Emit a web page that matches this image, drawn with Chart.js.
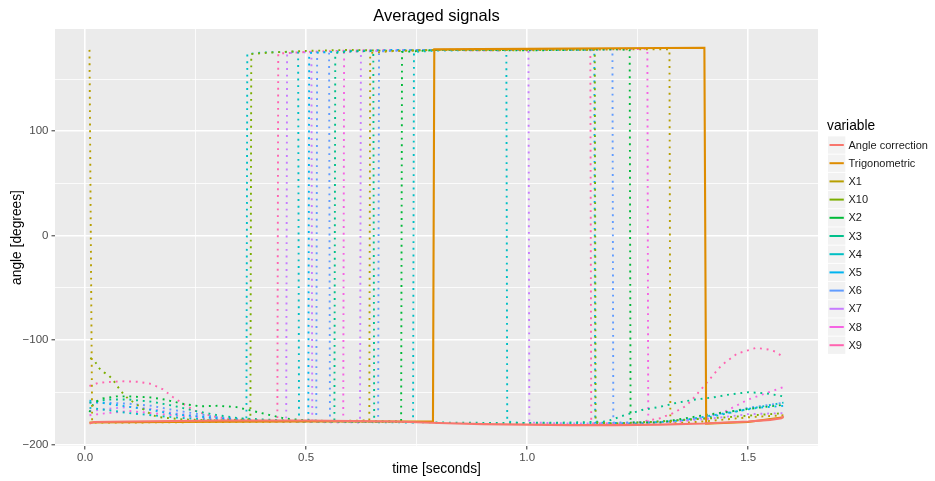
<!DOCTYPE html>
<html>
<head>
<meta charset="utf-8">
<script src="https://cdn.jsdelivr.net/npm/chart.js@4/dist/chart.umd.min.js"></script>
<style>
  body { margin: 0; background: #fff; }
  canvas { display: block; }
</style>
</head>
<body>
<canvas id="signalsCanvas" width="935" height="481"></canvas>
<script>
// [time, angle] pairs
const angleCorrection = [[0.01,-180],[0.02,-178.5],[0.1,-178],[0.2,-177.5],[0.3,-177],[0.4,-177],[0.5,-177],[0.6,-177.5],[0.7,-178],[0.8,-179.5],[0.9,-180.5],[1.0,-181],[1.1,-181.5],[1.2,-181.5],[1.3,-181],[1.4,-180],[1.45,-179],[1.5,-178],[1.55,-176.5],[1.575,-175],[1.58,-173]];
const trigonometric = [[0.01,-179],[0.2,-178.5],[0.5,-178],[0.787,-178],[0.79,178.5],[1.0,179],[1.2,179.5],[1.401,180],[1.405,-180],[1.5,-178.5],[1.58,-174]];
const x1 = [[0.01,178],[0.016,-179],[0.1,-179],[0.3,-178.5],[0.5,-178],[0.643,-177],[0.645,175],[0.7,177],[0.8,178],[0.9,177.5],[1.0,178],[1.1,178],[1.2,178.5],[1.322,178.5],[1.324,-180],[1.4,-178],[1.5,-174],[1.58,-172]];
const x10 = [[0.012,-117],[0.023,-121],[0.032,-127],[0.043,-131],[0.054,-134],[0.063,-138],[0.081,-149],[0.097,-156],[0.118,-162],[0.131,-166],[0.152,-172],[0.17,-174],[0.22,-176],[0.3,-177],[0.374,-176],[0.376,174],[0.42,175.5],[0.5,177],[0.6,178],[0.7,177],[0.8,178],[0.9,178],[1.0,177.5],[1.1,178.5],[1.153,178],[1.155,-179],[1.2,-180],[1.3,-178],[1.45,-174],[1.58,-170]];
const x2 = [[0.01,-169],[0.02,-160],[0.04,-156],[0.07,-154],[0.1,-154],[0.15,-155],[0.18,-157],[0.22,-161],[0.26,-163.5],[0.3,-163],[0.34,-164],[0.38,-168],[0.42,-172],[0.45,-175],[0.5,-177],[0.6,-178],[0.715,-178],[0.717,176],[0.8,178],[0.9,178],[1.0,177.5],[1.1,178],[1.2,178.5],[1.232,178],[1.234,-179],[1.3,-179],[1.4,-172],[1.5,-166],[1.58,-162]];
const x3 = [[0.01,-160],[0.05,-157],[0.1,-157],[0.15,-159],[0.2,-163],[0.25,-168],[0.3,-172],[0.35,-175],[0.45,-177],[0.564,-178],[0.566,175],[0.6,176.5],[0.652,177],[0.654,-178],[0.8,-179],[0.95,-179.5],[1.1,-179],[1.18,-178],[1.22,-172],[1.26,-167],[1.3,-164],[1.34,-160],[1.38,-157],[1.42,-155],[1.46,-152],[1.5,-150],[1.54,-151],[1.58,-154]];
const x4 = [[0.01,-165],[0.05,-167],[0.1,-170],[0.2,-174],[0.3,-177],[0.365,-178],[0.367,174],[0.4,175.5],[0.45,176],[0.482,176.5],[0.484,-178],[0.6,-178.5],[0.742,-179],[0.744,176],[0.8,177.5],[0.9,178],[0.953,177.5],[0.955,-178],[1.0,-180],[1.2,-180],[1.3,-178],[1.4,-175],[1.5,-166],[1.58,-160]];
const x5 = [[0.01,-158],[0.05,-161],[0.1,-164],[0.15,-167],[0.2,-171],[0.3,-175],[0.4,-177.5],[0.505,-178],[0.507,175],[0.6,177],[0.7,178],[0.8,177.5],[0.9,178],[1.0,178.5],[1.1,178],[1.152,178],[1.154,-179],[1.25,-180],[1.35,-177],[1.45,-170],[1.52,-165],[1.58,-163]];
const x6 = [[0.01,-160],[0.05,-160],[0.1,-161],[0.15,-163],[0.2,-167],[0.3,-174],[0.4,-177],[0.523,-178],[0.525,175.5],[0.552,176],[0.554,-178],[0.663,-178.5],[0.665,176.5],[0.75,178],[0.85,178],[0.95,178.5],[1.05,178],[1.193,178.5],[1.195,-179],[1.3,-179],[1.4,-174],[1.5,-165],[1.58,-160]];
const x7 = [[0.01,-168],[0.05,-166],[0.1,-164],[0.15,-166],[0.2,-170],[0.3,-175],[0.4,-177.5],[0.455,-178],[0.457,175],[0.512,176],[0.514,-178],[0.622,-179],[0.624,176.5],[0.7,177.5],[0.8,178],[0.9,177.5],[1.003,178],[1.005,-179],[1.1,-180],[1.25,-180],[1.4,-176],[1.5,-171],[1.58,-170]];
const x8 = [[0.01,-172],[0.05,-170],[0.1,-168],[0.15,-170],[0.2,-172],[0.3,-176],[0.45,-178],[0.584,-179],[0.586,176],[0.7,177.5],[0.8,178],[0.9,178.5],[1.0,178],[1.1,178.5],[1.2,178.5],[1.272,179],[1.274,-179],[1.35,-178],[1.4,-174],[1.45,-168],[1.5,-157],[1.54,-151],[1.58,-145]];
const x9 = [[0.01,-144],[0.03,-141],[0.06,-140],[0.09,-139.5],[0.12,-140],[0.15,-142],[0.175,-147],[0.2,-155],[0.222,-161],[0.245,-167],[0.27,-171],[0.3,-174],[0.35,-177],[0.435,-178],[0.437,174.5],[0.5,176],[0.6,177.5],[0.7,178],[0.8,178],[0.9,177.5],[1.0,178],[1.143,178.5],[1.145,-180],[1.2,-180],[1.25,-179],[1.3,-175],[1.33,-170],[1.36,-163],[1.38,-154],[1.41,-139],[1.44,-124],[1.475,-113],[1.518,-107.5],[1.545,-109],[1.561,-111],[1.575,-115]];

const seriesNames = ['Angle correction', 'Trigonometric', 'X1', 'X10', 'X2', 'X3', 'X4', 'X5', 'X6', 'X7', 'X8', 'X9'];
const seriesValues = [angleCorrection, trigonometric, x1, x10, x2, x3, x4, x5, x6, x7, x8, x9];
const seriesColors = ['#F8766D', '#DE8C00', '#B79F00', '#7CAE00', '#00BA38', '#00C08B', '#00BFC4', '#00B4F0', '#619CFF', '#C77CFF', '#F564E3', '#FF64B0'];
const solidSeries = ['Angle correction', 'Trigonometric'];

const xMajor = [0, 0.5, 1, 1.5];
const xMinor = [0.25, 0.75, 1.25];
const yMajor = [-200, -100, 0, 100];
const yMinor = [-150, -50, 50, 150];

const fontFamily = '"Liberation Sans", Arial, sans-serif';

const datasets = seriesNames.map((name, i) => {
  const solid = solidSeries.includes(name);
  return {
    label: name,
    data: seriesValues[i].map(p => ({ x: p[0], y: p[1] })),
    borderColor: seriesColors[i],
    borderWidth: solid ? 2.1 : 1.9,
    borderDash: solid ? [] : [1.9, 4.8],
    pointRadius: 0,
    tension: 0,
    fill: false
  };
});

function setTicks(major, minor) {
  return scale => {
    scale.ticks = major.concat(minor).sort((a, b) => a - b).map(v => ({ value: v }));
  };
}

function gridWidth(major) {
  return ctx => (ctx.tick && major.includes(ctx.tick.value)) ? 1.6 : 0.8;
}

function tickColor(major) {
  return ctx => (ctx.tick && major.includes(ctx.tick.value)) ? '#333333' : 'rgba(0,0,0,0)';
}

const ggDecor = {
  id: 'ggDecor',
  beforeDraw(chart) {
    const { ctx, chartArea } = chart;
    ctx.save();
    ctx.fillStyle = '#ffffff';
    ctx.fillRect(0, 0, chart.width, chart.height);
    ctx.fillStyle = '#EBEBEB';
    ctx.fillRect(chartArea.left, chartArea.top, chartArea.right - chartArea.left, chartArea.bottom - chartArea.top);
    ctx.restore();
  },
  afterDraw(chart) {
    const { ctx, chartArea } = chart;
    const midX = (chartArea.left + chartArea.right) / 2;
    const midY = (chartArea.top + chartArea.bottom) / 2;
    ctx.save();
    ctx.fillStyle = '#000';
    ctx.textAlign = 'center';
    ctx.textBaseline = 'middle';
    ctx.font = '16.5px ' + fontFamily;
    ctx.fillText('Averaged signals', midX, 16);
    ctx.font = '13.75px ' + fontFamily;
    ctx.fillText('time [seconds]', midX, 469);
    ctx.translate(17, midY);
    ctx.rotate(-Math.PI / 2);
    ctx.fillText('angle [degrees]', 0, 0);
    ctx.restore();

    // legend
    ctx.save();
    ctx.textAlign = 'left';
    ctx.textBaseline = 'middle';
    ctx.fillStyle = '#000';
    ctx.font = '13.75px ' + fontFamily;
    ctx.fillText('variable', 827, 126);
    ctx.font = '11px ' + fontFamily;
    chart.data.datasets.forEach((ds, i) => {
      const cy = 145 + i * 18.2;
      ctx.fillStyle = '#F2F2F2';
      ctx.fillRect(828, cy - 8.6, 17.3, 17.3);
      ctx.strokeStyle = ds.borderColor;
      ctx.lineWidth = 2;
      ctx.beginPath();
      ctx.moveTo(829.5, cy);
      ctx.lineTo(843.8, cy);
      ctx.stroke();
      ctx.fillStyle = '#1a1a1a';
      ctx.fillText(ds.label, 848.5, cy + 0.5);
    });
    ctx.restore();
  }
};

new Chart(document.getElementById('signalsCanvas'), {
  type: 'line',
  data: { datasets },
  plugins: [ggDecor],
  options: {
    responsive: false,
    animation: false,
    devicePixelRatio: 1,
    layout: { padding: { left: 0, top: 29, right: 117, bottom: 0 } },
    plugins: {
      legend: { display: false },
      title: { display: false },
      tooltip: { enabled: false }
    },
    scales: {
      x: {
        type: 'linear',
        min: -0.068,
        max: 1.658,
        afterBuildTicks: setTicks(xMajor, xMinor),
        afterFit: scale => { scale.height = 35; },
        border: { display: false },
        grid: {
          color: '#ffffff',
          lineWidth: gridWidth(xMajor),
          drawTicks: true,
          tickLength: 3.5,
          tickColor: tickColor(xMajor),
          tickWidth: 1
        },
        ticks: {
          autoSkip: false,
          maxRotation: 0,
          padding: 1,
          color: '#4D4D4D',
          font: { family: fontFamily, size: 11.5 },
          callback: v => xMajor.includes(v) ? v.toFixed(1) : ''
        }
      },
      y: {
        type: 'linear',
        min: -201.5,
        max: 198,
        afterBuildTicks: setTicks(yMajor, yMinor),
        afterFit: scale => { scale.width = 55; },
        border: { display: false },
        grid: {
          color: '#ffffff',
          lineWidth: gridWidth(yMajor),
          drawTicks: true,
          tickLength: 3.5,
          tickColor: tickColor(yMajor),
          tickWidth: 1
        },
        ticks: {
          autoSkip: false,
          padding: 3,
          color: '#4D4D4D',
          font: { family: fontFamily, size: 11.5 },
          callback: v => yMajor.includes(v) ? (v < 0 ? '\u2212' + Math.abs(v) : String(v)) : ''
        }
      }
    }
  }
});
</script>
</body>
</html>
